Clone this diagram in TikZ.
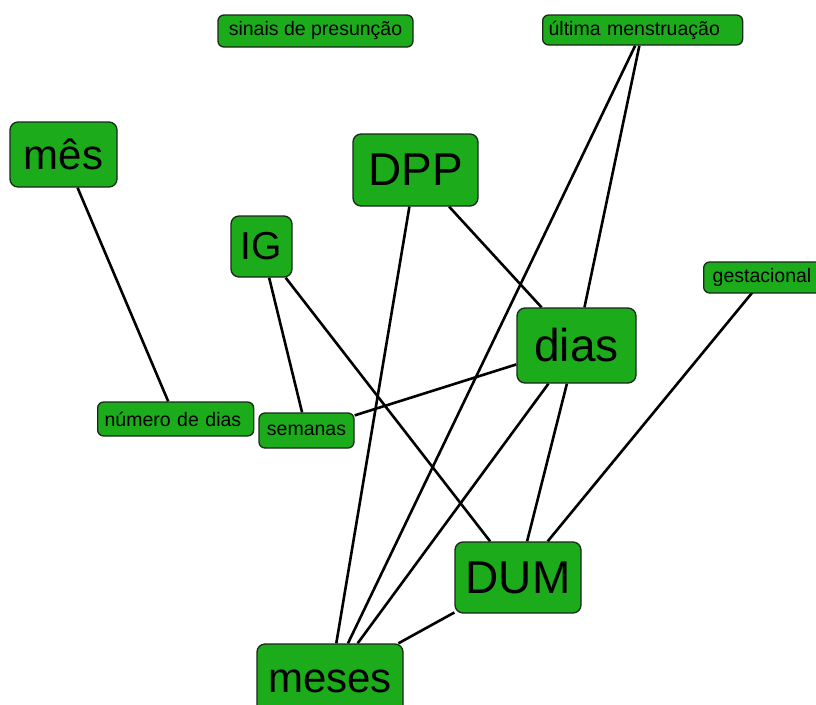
\documentclass[tikz,border=0pt]{standalone}
\usepackage{fontspec}
\setmainfont{Liberation Sans}
\usetikzlibrary{backgrounds}
\definecolor{boxgreen}{RGB}{27,171,27}
\definecolor{boxedge}{RGB}{25,40,25}
\tikzset{
  concept/.style={draw=boxedge, line width=1.3pt, fill=boxgreen, rounded corners=8pt,
    inner sep=0pt, text=black},
  big/.style={concept, font=\fontsize{46}{46}\selectfont},
  mid/.style={concept, font=\fontsize{42}{42}\selectfont},
  small/.style={concept, rounded corners=6pt, font=\fontsize{19.5}{19.5}\selectfont},
  link/.style={line width=2.6pt, black},
}
\begin{document}
\begin{tikzpicture}[x=1pt, y=-1pt]
\useasboundingbox (0,0) rectangle (816,704);
\begin{scope}
\clip (0,0) rectangle (816,704);
\node[small, minimum width=195pt, minimum height=32pt] (sinais) at (315.5,31) {sinais de presunção};
\node[small, anchor=west, text width=188pt, align=left, inner xsep=6pt, minimum height=30pt] (ultima) at (542,30) {última menstruação};
\node[mid, minimum width=107pt, minimum height=65pt] (mes) at (63.5,154.5) {mês};
\node[big, minimum width=125pt, minimum height=72pt] (dpp) at (415.5,170) {DPP};
\node[concept, font=\fontsize{39}{39}\selectfont, minimum width=61pt, minimum height=61pt] (ig) at (261.5,246.5) {IG};
\node[small, anchor=west, text width=104pt, align=left, inner xsep=9pt, minimum height=31pt] (gest) at (703,277.5) {gestacional};
\node[big, minimum width=119pt, minimum height=75pt] (dias) at (576.5,345.5) {dias};
\node[small, anchor=west, text width=142pt, align=left, inner xsep=7pt, minimum height=34pt] (numero) at (97,419) {número de dias};
\node[small, minimum width=95pt, minimum height=35pt] (semanas) at (306.5,430.5) {semanas};
\node[big, minimum width=126pt, minimum height=71pt] (dum) at (518,577.5) {DUM};
\node[mid, minimum width=146pt, minimum height=74pt] (meses) at (330,681) {meses};
\begin{scope}[on background layer]
\draw[link] (mes) -- (numero);
\draw[link] (ig) -- (semanas);
\draw[link] (ig) -- (dum);
\draw[link] (dpp) -- (meses);
\draw[link] (dpp) -- (dias);
\draw[link] (ultima) -- (meses);
\draw[link] (ultima) -- (dias);
\draw[link] (dias) -- (semanas);
\draw[link] (dias) -- (meses);
\draw[link] (dias) -- (dum);
\draw[link] (gest.center) -- (dum);
\draw[link] (dum) -- (meses);
\end{scope}
\end{scope}
\end{tikzpicture}
\end{document}
